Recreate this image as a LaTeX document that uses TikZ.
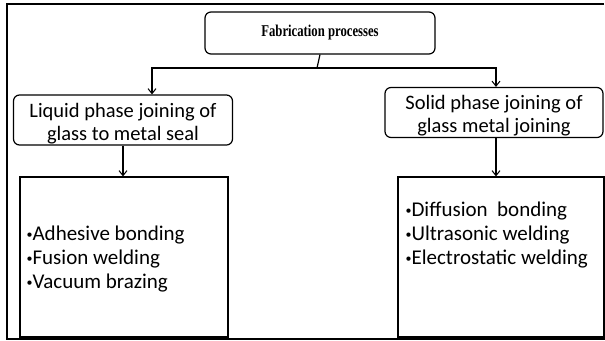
\documentclass[tikz,border=0pt]{standalone}
\usepackage{fontspec}
\setmainfont{Carlito}
\newfontfamily\titlefont{Liberation Serif}
\usetikzlibrary{arrows.meta}
\newcommand\blt{{\fontsize{12}{12}\selectfont\raisebox{2pt}{•}}}

\begin{document}
\begin{tikzpicture}[
  x=1pt, y=-1pt,
  topbox/.style={draw, rounded corners=6pt, line width=1.2pt, align=center,
    minimum width=230pt, minimum height=42pt,
    font=\titlefont\bfseries\fontsize{16.5}{18}\selectfont},
  phase/.style={draw, rounded corners=6pt, line width=1.2pt, align=center,
    inner sep=1pt, font=\fontsize{20.5}{23}\selectfont},
  listbox/.style={draw, line width=1.2pt, minimum height=160pt},
  listtext/.style={anchor=west, align=left, inner sep=0pt,
    font=\fontsize{21}{24}\selectfont},
  arr/.style={-{Straight Barb[length=5pt,width=8pt,line width=1pt]}, line width=1.2pt}
]
\useasboundingbox (0,0) rectangle (605,340);
% outer frame, open on the right
\draw[line width=1.2pt] (604,4) -- (7,4) -- (7,339) -- (605,339);

\node[topbox] (top) at (320,33) {\raisebox{3pt}{\scalebox{0.77}[1]{Fabrication processes}}};
\node[phase, minimum width=219pt, minimum height=46pt] (liquid) at (123,120)
  {\rule{0pt}{21.5pt}Liquid phase joining of\\glass to metal seal};
\node[phase, minimum width=218pt, minimum height=49pt] (solid) at (494,112.5)
  {\rule{0pt}{21.5pt}Solid phase joining of\\glass metal joining};

\node[listbox, minimum width=208pt] (liqlist) at (124,257) {};
\node[listbox, minimum width=206pt] (sollist) at (501,257) {};
\node[listtext] (liqtext) at ([xshift=7pt,yshift=-2pt]liqlist.west)
  {\blt Adhesive bonding\\\blt Fusion welding\\\blt Vacuum brazing};
\node[listtext] (soltext) at ([xshift=8pt,yshift=22pt]sollist.west)
  {\blt Diffusion\ \ bonding\\\blt Ultrasonic welding\\\blt Electrostatic welding};

% connectors
\coordinate (split) at (317,68);
\draw[line width=1.2pt] (top.south) -- (split);
\draw[arr] (split) -| ([xshift=29pt]liquid.north);
\draw[arr] (split) -| ([xshift=2pt]solid.north);
\draw[arr] (liquid.south) -- (liquid.south |- liqlist.north);
\draw[arr] ([xshift=2pt]solid.south) -- ([xshift=2pt]solid.south |- sollist.north);
\end{tikzpicture}
\end{document}
